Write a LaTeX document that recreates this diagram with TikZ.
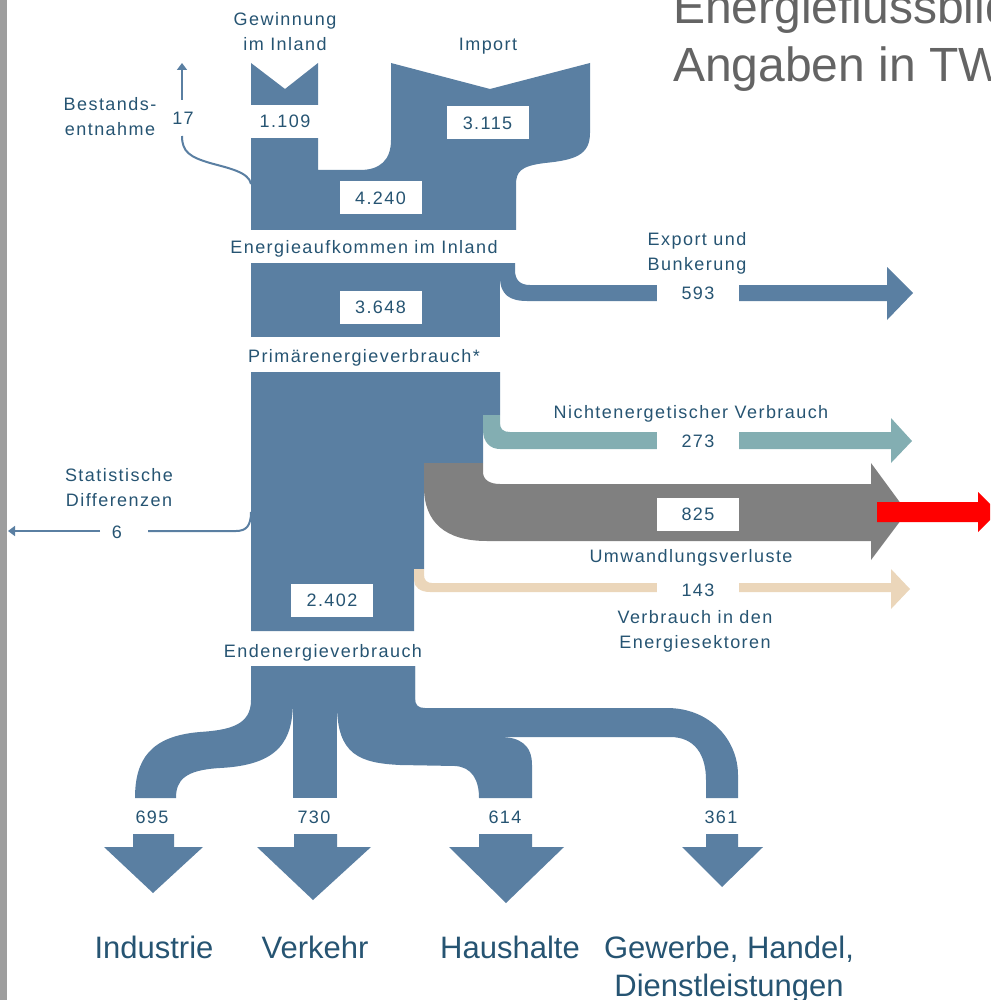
\documentclass[tikz,border=0pt]{standalone}
\usepackage{fontspec}
\setmainfont{Liberation Sans}
\newfontfamily\spacedfont[LetterSpace=8]{Liberation Sans}
\usetikzlibrary{arrows.meta}

\definecolor{flowblue}{RGB}{90,127,162}
\definecolor{flowteal}{RGB}{131,174,178}
\definecolor{flowgrey}{RGB}{128,128,128}
\definecolor{flowbeige}{RGB}{235,214,186}
\definecolor{txtblue}{RGB}{38,84,114}
\definecolor{titlegrey}{RGB}{100,100,100}
\definecolor{bargrey}{RGB}{158,158,158}

\begin{document}
\begin{tikzpicture}[x=1pt, y=-1pt,
    flow/.style    = {fill=flowblue},
    value/.style   = {fill=white, inner sep=0pt, minimum width=82pt, minimum height=33pt,
                      text=txtblue, font=\spacedfont\fontsize{18}{25}\selectfont},
    caption/.style = {text=txtblue, align=center, anchor=base,
                      font=\spacedfont\fontsize{18}{25}\selectfont},
    sector/.style  = {text=txtblue, align=center, anchor=base,
                      font=\fontsize{31}{38}\selectfont},
    stock/.style   = {draw=flowblue, line width=2pt},
    tip/.style     = {-{Triangle[width=10pt,length=7pt]}},
  ]
  \useasboundingbox (0,0) rectangle (990,1000);
  \clip (0,0) rectangle (990,1000);
  \fill[bargrey] (0,0) rectangle (7,1000);

  % Aufkommen
  \fill[flow] (251,63) -- (285,89) -- (318,63) -- (318,170) -- (360,170)
    .. controls (380,170) and (391,160) .. (391,140) -- (391,63) -- (490,89) -- (590,63)
    -- (590,133) .. controls (590,155) and (575,160) .. (545,163)
    .. controls (520,166) and (516,172) .. (516,185) -- (516,230) -- (251,230) -- cycle;
  \draw[stock] (251,184) .. controls (249,172) and (228,168) .. (210,163)
    .. controls (190,157) and (182,152) .. (182,136);
  \draw[stock, tip] (182,100) -- (182,63);

  % Primaerenergie und Export
  \fill[flow] (251,263) rectangle (500,337);
  \fill[flow] (500,263) -- (515,263) -- (515,270) .. controls (515,280) and (520,285) .. (530,285)
    -- (887,285) -- (887,267) -- (913,293) -- (887,320) -- (887,301) -- (527,301)
    .. controls (510,301) and (500,295) .. (500,277) -- cycle;

  % Umwandlung
  \fill[flow] (251,372) -- (500,372) -- (500,415) -- (483,415) -- (483,463) -- (424,463)
    -- (424,569) -- (414,569) -- (414,631) -- (251,631) -- cycle;
  \fill[flowteal] (483,415) -- (500,415) -- (500,423) .. controls (500,429) and (503,432) .. (510,432)
    -- (891,432) -- (891,418) -- (912,441) -- (891,463) -- (891,449) -- (500,449)
    .. controls (490,449) and (483,442) .. (483,430) -- cycle;
  \fill[flowgrey] (424,463) -- (483,463) -- (483,472) .. controls (483,480) and (490,484) .. (500,484)
    -- (871,484) -- (871,463) -- (907,512) -- (871,560) -- (871,541) -- (487,541)
    .. controls (445,541) and (424,522) .. (424,487) -- cycle;
  \fill[flowbeige] (414,569) -- (424,569) -- (424,575) .. controls (424,580) and (427,583) .. (432,583)
    -- (891,583) -- (891,569) -- (910,589) -- (891,609) -- (891,592) -- (430,592)
    .. controls (420,592) and (414,587) .. (414,580) -- cycle;
  \fill[red] (877,502) -- (978,502) -- (978,492) -- (998,512) -- (978,532) -- (978,522) -- (877,522) -- cycle;
  \draw[stock] (251,512) .. controls (251,526) and (246,531) .. (236,531) -- (148,531);
  \draw[stock, tip] (100,531) -- (8,531);

  % Endenergie
  \fill[flow] (251,666) rectangle (415,705);
  \fill[flow] (251,666) -- (293,666) -- (293,700) .. controls (293,740) and (280,765) .. (220,768)
    .. controls (185,770) and (176,780) .. (176,798) -- (135,798)
    .. controls (135,760) and (150,736) .. (200,732) .. controls (230,730) and (251,725) .. (251,700) -- cycle;
  \fill[flow] (293,666) rectangle (337,798);
  \fill[flow] (337,666) -- (415,666) -- (415,737) -- (500,737) .. controls (520,737) and (532,745) .. (532,765)
    -- (532,798) -- (479,798) .. controls (479,780) and (472,767) .. (455,766) -- (400,765)
    .. controls (360,763) and (337,755) .. (337,705) -- cycle;
  \fill[flow] (415,666) -- (415,698) .. controls (415,705) and (418,708) .. (425,708) -- (667,708)
    .. controls (710,708) and (738,740) .. (738,775) -- (738,798) -- (706,798) -- (706,780)
    .. controls (706,755) and (695,737) .. (670,737) -- (415,737) -- cycle;
  \fill[flow] (133,834) -- (174,834) -- (174,847) -- (203,847) -- (153,893) -- (104,847) -- (133,847) -- cycle;
  \fill[flow] (294,834) -- (337,834) -- (337,847) -- (371,847) -- (313,900) -- (257,847) -- (294,847) -- cycle;
  \fill[flow] (479,834) -- (532,834) -- (532,847) -- (564,847) -- (506,903) -- (449,847) -- (479,847) -- cycle;
  \fill[flow] (706,834) -- (738,834) -- (738,847) -- (763,847) -- (722,887) -- (682,847) -- (706,847) -- cycle;

  % Werte
  \node[value] (gewinnungwert) at (285,121.5) {1.109};
  \node[value] (importwert) at (487.5,123) {3.115};
  \node[value] (aufkommenwert) at (380.5,198) {4.240};
  \node[value] (primaerwert) at (380.5,307) {3.648};
  \node[value] (exportwert) at (698,293) {593};
  \node[value] (nichtwert) at (698,441) {273};
  \node[value] (umwandlungwert) at (698,514) {825};
  \node[value] (sektorwert) at (698,590) {143};
  \node[value] (endwert) at (332,600) {2.402};
  \node[caption] (bestandwert) at (183,125) {17};
  \node[caption] (statwert) at (117,538) {6};
  \node[caption] (industriewert) at (152,823) {695};
  \node[caption] (verkehrwert) at (314,823) {730};
  \node[caption] (haushaltwert) at (505,823) {614};
  \node[caption] (gewerbewert) at (721,823) {361};

  % Beschriftungen
  \node[caption] (gewinnung) at (285,51) {Gewinnung\\im Inland};
  \node[caption] (import) at (488,51) {Import};
  \node[caption] (bestand) at (110,136) {Bestands-\\entnahme};
  \node[caption] (aufkommen) at (364,253) {Energieaufkommen im Inland};
  \node[caption] (export) at (697,270) {Export und\\Bunkerung};
  \node[caption] (primaer) at (364,362) {Primärenergieverbrauch*};
  \node[caption] (nicht) at (691,418) {Nichtenergetischer Verbrauch};
  \node[caption] (umwandlung) at (691,562) {Umwandlungsverluste};
  \node[caption] (sektoren) at (695,648) {Verbrauch in den\\Energiesektoren};
  \node[caption] (statistik) at (119,506) {Statistische\\Differenzen};
  \node[caption] (endenergie) at (323,657) {Endenergieverbrauch};
  \node[sector] (industrie) at (154,958) {Industrie};
  \node[sector] (verkehr) at (315,958) {Verkehr};
  \node[sector] (haushalte) at (510,958) {Haushalte};
  \node[sector] (gewerbe) at (729,996) {Gewerbe, Handel,\\Dienstleistungen};
  \node[anchor=base west, align=left, text=titlegrey, font=\fontsize{48}{58}\selectfont, inner sep=0pt]
    (titel) at (673,82) {Energieflussbild\\Angaben in TWh};
\end{tikzpicture}
\end{document}
